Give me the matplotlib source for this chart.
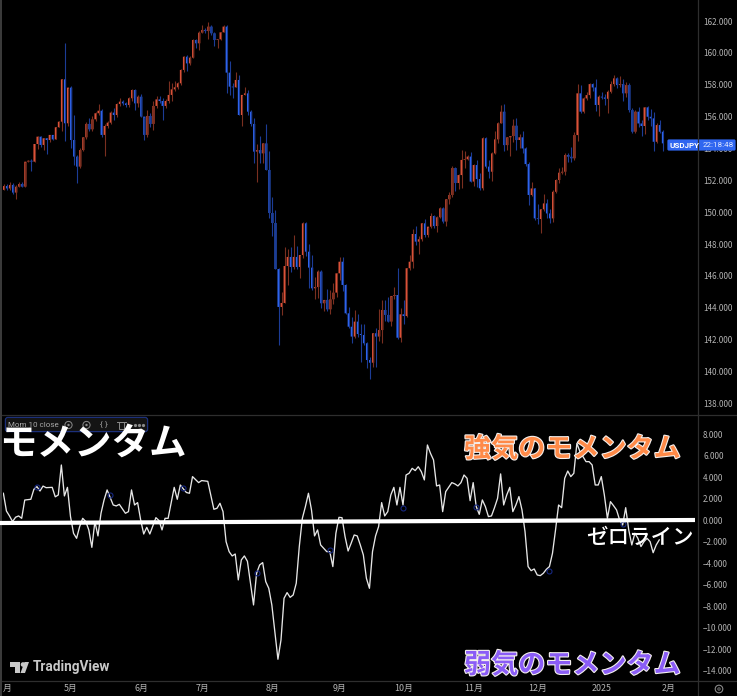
import numpy as np
import matplotlib
matplotlib.use('Agg')
import matplotlib.pyplot as plt
import matplotlib.patheffects as pe
from matplotlib.patches import FancyBboxPatch, Rectangle, Polygon, Circle

plt.rcParams['font.family'] = ['Noto Sans CJK JP', 'DejaVu Sans']

first_open = 151.40
closes = [
    151.64, 151.49, 151.71, 151.23, 151.60, 151.77, 151.60, 153.17, 153.23, 153.17,
    154.28, 154.74, 154.22, 154.64, 154.53, 154.85, 154.57, 155.33, 155.68, 158.34,
    155.58, 157.82, 154.53, 153.49, 152.86, 153.90, 154.70, 155.54, 155.20, 155.83,
    156.21, 156.37, 154.85, 155.41, 155.62, 156.25, 156.10, 156.79, 156.94, 156.83,
    156.73, 157.15, 157.67, 156.83, 157.25, 156.00, 154.85, 156.04, 155.54, 156.67,
    157.08, 156.98, 156.67, 156.98, 157.36, 157.71, 157.84, 158.09, 158.93, 159.76,
    159.34, 159.70, 160.81, 160.60, 161.27, 161.44, 161.37, 161.65, 161.23, 160.81,
    160.85, 161.29, 161.65, 158.76, 157.88, 157.84, 158.30, 156.10, 157.36, 157.46,
    156.31,
    155.54, 153.80, 153.90, 153.69, 154.32, 152.65, 149.95, 149.32, 146.43, 144.05,
    144.30, 146.62, 147.19, 146.56, 147.19, 146.56, 147.31, 149.30, 147.52, 146.52,
    145.22, 145.30, 146.27, 144.28, 144.49, 143.90, 144.53, 144.95, 146.16, 146.89,
    145.43, 143.65, 142.81, 142.19, 143.13, 142.35, 142.29, 141.77, 140.72, 140.55,
    142.40, 142.19, 142.60, 143.86, 143.55, 143.13, 144.74, 144.80, 142.12, 143.59,
    143.48, 146.48, 146.89, 148.63, 148.15, 148.30, 149.30, 148.57, 149.09, 149.76,
    149.13, 149.68, 150.24, 149.41, 150.81, 151.08, 152.77, 151.83, 152.33, 153.28,
    153.32, 153.49, 151.92, 152.96, 152.08, 151.50, 154.64, 152.86, 152.54, 153.69,
    154.57, 155.58,
    156.31, 154.21, 154.70, 154.78, 155.43, 154.53, 154.70, 154.00, 153.02, 151.08,
    151.49, 149.61, 149.57, 150.18, 150.55, 149.92, 149.61, 151.28, 152.02, 152.48,
    152.54, 153.59, 153.48, 153.38, 154.84, 157.46, 156.31, 157.14, 157.35, 158.04,
    157.83, 156.73, 157.25, 157.20, 157.12, 157.56, 158.04, 158.40, 157.98, 158.04,
    157.46, 157.98, 156.41, 155.05, 156.31, 155.57, 155.41, 156.58, 155.99, 155.89,
    154.42, 155.47, 155.05, 154.32,
]
# wick length above / below the candle body
wick_up = [
    .1, .1, .2, .1, .1, .15, .15, 0, .05, .1,
    0, .05, .05, 0, 0, 0, 0, 0, .05, 0,
    2.3, 0, .1, 1.6, .1, .1, 0, .1, .4, .2,
    .1, .4, .1, .1, .1, .1, .3, .05, .2, .1,
    .1, .1, .05, .05, .1, .2, 0, .4, .2, .3,
    .2, .2, .2, .1, .9, .4, .4, .1, .05, .05,
    .1, .1, .05, .05, .1, .3, .1, .3, .1, .1,
    0, .05, .1, .1, .7, .2, .5, .3, 0, .4,
    .2,
    .1, .4, .4, .9, 0, 1.2, 1.2, 1.0, .8, .05,
    .7, 1.2, .5, .6, 1.4, .7, 0, .1, .1, .5,
    .8, .6, .1, .1, 0, .7, .6, .6, .05, .3,
    .3, .05, .4, .6, .7, .5, .6, .7, .1, .2,
    0, .3, 1.3, .6, .6, 1.1, 0, .5, 1.7, .4,
    .9, 0, .4, .3, .5, .2, 0, .3, 0, .2,
    .05, .1, .1, .1, 0, .2, .1, .05, .05, .6,
    .5, .1, .3, .05, .3, .4, .05, .05, .4, .1,
    .5, .05,
    .4, .5, 0, 0, .4, .5, .2, .4, .1, .1,
    .4, .05, .9, 0, .6, .3, .3, .1, .05, .3,
    .3, .1, .1, .6, .2, .6, .5, .1, .2, .1,
    .1, .5, .1, .3, .2, .1, .2, .2, .1, .5,
    .3, .2, .1, .1, .1, .3, .2, .05, .1, .5,
    .4, .1, .3, .1,
]
wick_dn = [
    0, .1, .1, .1, .4, 0, .05, 0, .05, .6,
    .05, .3, .1, .3, .9, .1, .05, 0, 0, .6,
    1.1, .2, .5, .5, 1.0, .1, .05, .1, .1, .1,
    .1, .1, .1, 1.3, .1, .1, .3, .1, .1, .1,
    .1, .1, .2, .4, .2, .05, .3, .1, .2, .4,
    .1, .1, .9, .1, .1, .4, .1, .1, .1, .1,
    .5, .1, 0, .3, .4, .05, .1, .5, .1, .4,
    .5, .05, 0, 1.3, .5, .7, 0, 0, .7, 0,
    .2,
    .1, .7, 1.9, .6, .6, 0, .3, .8, 0, 2.4,
    .5, 0, 1.2, .3, .1, .1, .7, .2, .3, 1.3,
    .1, .7, .7, .3, .5, .1, .3, .3, .3, .4,
    .4, .05, .05, .4, .1, .2, 1.7, .1, .5, 1.0,
    .3, 1.9, .3, .8, .4, 0, .3, .2, .1, .3,
    .5, .05, .1, .4, .2, .8, .1, .1, .1, .1,
    .1, .4, .05, .1, .3, .3, .1, .5, .4, .8,
    .5, .05, .05, .3, .5, .1, .1, .1, .4, .6,
    .05, .2,
    0, .4, .3, 1.2, .4, .6, .5, .3, .1, .6,
    .05, .1, .3, .9, .1, .3, .3, .2, .1, .2,
    .1, .2, .3, .2, .1, .4, .1, .1, .1, .2,
    .2, .4, .7, .1, .4, .9, .1, .1, .2, .1,
    .5, .2, .1, .1, .05, .2, .6, .5, .2, .5,
    .6, .1, .1, .5,
]

mom_idx = [
    0, 1, 2, 3, 4, 5, 6, 7, 9, 10, 11, 12, 13, 14, 16, 17, 18, 19, 20, 21, 22, 23, 24,
    25, 26, 27, 28, 29, 30, 31, 32, 33, 34, 35, 36, 37, 38, 40, 41, 42, 43, 44, 45, 46,
    47, 48, 50, 51, 52, 53, 54, 56, 57, 58, 59, 60, 61, 62, 64, 65, 67, 69, 70, 71, 72,
    73, 74, 75, 76, 77, 78, 79, 80, 81, 82, 83, 84, 85, 86, 87, 88, 89, 90, 91, 92, 93,
    94, 95, 96, 97, 98, 99, 100, 101, 102, 103, 104, 105, 106, 107, 108, 109, 110, 111,
    112, 113, 114, 115, 116, 117, 118, 119, 120, 121, 122, 123, 124, 125, 126, 127, 128,
    129, 130, 131, 132, 133, 134, 135, 136, 137, 138, 139, 140, 141, 142, 143, 144, 145,
    147, 148, 149, 150, 151, 152, 153, 154, 155, 156, 157, 158, 159, 160, 161, 162, 163,
    164, 165, 166, 167, 168, 169, 170, 171, 172, 173, 174, 175, 176, 177, 178, 179, 180,
    181, 182, 183, 184, 185, 186, 187, 188, 189, 190, 191, 192, 193, 194, 195, 196, 197,
    198, 199, 200, 201, 202, 203, 204, 205, 206, 207, 208, 209, 210, 211, 212, 213, 214,
    215,
]
mom_vals = [
    2.53, .88, .42, -.1, .3, .42, .2, 1.9, 1.97, 2.9, 3.15, 2.74, 3.2, 3.05, 3.08, 2.2, 2.37, 5.16, 2.28, 3.08, .36, -1.2, -1.66,
    -.57, .2, -.1, -.88, -2.5, -.1, -1.44, .67, 1.9, 2.84, 2.15, 1.44, 1.35, 1.5, .67, .82, 2.84, 1.44, 1.66, .05, -1.26,
    -.64, -1.26, .26, 0, -.88, .2, .2, 3.08, 1.97, 3.3, 2.93, 2.6, 2.53, 4.08, 3.52, 3.71, 3.64, 1.04, 1.13, 1.6, .82,
    -1.97, -2.9, -3.3, -3.12, -5.53, -3.67, -3.3, -3.8, -5.85, -7.86, -4.91, -4.14, -3.92, -5.69, -6.31, -7.86, -10.34, -12.91, -11.12, -7.24, -6.71,
    -7.15, -6.93, -5.84, -2.43, .2, 1.29, 2.53, .98, -1.44, -.88, -2.28, -2.59, -2.9, -2.9, -4.29, -1.19, .29, .26,
    -1.5, -2.84, -2.12, -1.35, -1.44, -2.28, -3.21, -5.38, -6.31, -2.9, -1.44, -.57, 1.66, .42, .82, 2.37, 3.08,
    1.44, 3.08, 1.44, 4.23, 4.39, 4.85, 4.64, 5.0, 4.54, 3.77, 7.02, 6.25, 5.63, 3.21, 3.3, .82, 2.68,
    3.52, 3.4, 3.21, 3.52, 4.23, 3.92, 1.84, 3.52, 1.29, .57, 1.91, 1.29, .36, .42, 1.2, 2.06, 4.33,
    1.44, 2.37, 3.08, .82, 1.44, 2.22, .98, -1.04, -4.29, -4.67, -4.51, -5.07, -5.13, -4.91, -4.54, -4.29, -3.05,
    -.88, 1.44, 1.19, 3.92, 4.6, 4.08, 4.39, 7.18, 6.4, 5.94, 5.47, 5.47, 5.16, 3.3, 3.3, 4.08, 2.37,
    .2, 1.75, 1.38, .98, .05, -.42, 1.19, -.88, -2.28, -1.19, -1.66, -2.43, -1.97, -1.66, -1.97, -3.0, -2.28,
    -1.81,
]
dot_idx = [11, 35, 59, 83, 107, 131, 155, 179, 203]
dot_vals = [3.15, 2.34, 3.05, -4.85, -2.78, 1.13, 1.29, -4.73, -.36]

price_ticks = [138, 140, 142, 144, 146, 148, 150, 152, 154, 156, 158, 160, 162]
mom_ticks = [8, 6, 4, 2, 0, -2, -4, -6, -8, -10, -12, -14]
month_idx = [1, 22, 45, 65, 88, 110, 131, 154, 175, 196, 218]
month_labels = ['月', '5月', '6月', '7月', '8月', '9月', '10月', '11月', '12月', '2025', '2月']

W, H = 737, 696
BG = '#000000'
LINE = '#2e2e2e'
TICK = '#b4b4b4'
UP, DOWN = '#e0533a', '#2f66f0'
UP_W, DOWN_W = '#7a2f20', '#1c3c96'


def pane(top, bottom):
    return fig.add_axes([2.5 / W, 1 - bottom / H, (698 - 2.5) / W, (bottom - top) / H], facecolor=BG)


fig = plt.figure(figsize=(W / 100, H / 100), dpi=100, facecolor=BG)
ax = pane(0, 414)
ax2 = pane(415, 680)

closes = np.array(closes)
opens = np.r_[first_open, closes[:-1]]
x = np.arange(len(closes))
highs = np.maximum(opens, closes) + np.array(wick_up)
lows = np.minimum(opens, closes) - np.array(wick_dn)
up = closes >= opens

ax.vlines(x[up], lows[up], highs[up], color=UP_W, lw=0.8)
ax.vlines(x[~up], lows[~up], highs[~up], color=DOWN_W, lw=0.8)
for rect in ax.bar(x[up], (closes - opens)[up], bottom=opens[up], width=0.7, color=UP, lw=0):
    rect.set_snap(False)
for rect in ax.bar(x[~up], (closes - opens)[~up], bottom=opens[~up], width=0.7, color=DOWN, lw=0):
    rect.set_snap(False)
ax.set_ylim(137.33, 163.32)
ax.set_yticks(price_ticks, [f'{v:.3f}' for v in price_ticks])

mom_x = np.array(mom_idx) - 0.2
ax2.plot(mom_x, mom_vals, color='#e6e6e6', lw=0.95, zorder=3)
ax2.plot(np.array(dot_idx) - 0.2, dot_vals, 'o', ms=3.6, mfc='none', mec='#16277f', mew=0.8, zorder=4)
ax2.set_ylim(-14.84, 9.81)
ax2.set_yticks(mom_ticks, [f'{v:.3f}'.replace('-', '\u2212') for v in mom_ticks])
ax2.set_xticks(month_idx, month_labels)

for a in (ax, ax2):
    a.set_xlim(-0.49, 227.5)
    a.yaxis.tick_right()
    a.tick_params(axis='y', length=0, pad=3.6, labelsize=5.8, labelcolor=TICK)
    a.tick_params(axis='x', length=0, pad=3.2, labelsize=6.4, labelcolor=TICK)
    for s in a.spines.values():
        s.set_visible(False)
ax.set_xticks([])

# everything that sits on top of the panes, in pixels of the picture
top = fig.add_axes([0, 0, 1, 1], facecolor='none', zorder=10)
top.set_xlim(0, W)
top.set_ylim(H, 0)
top.axis('off')

top.add_patch(Rectangle((0, 0), 2.5, H, color='#3a3a3a', lw=0))
top.plot([698, 698], [0, H], color=LINE, lw=0.9)
top.plot([2.5, W], [414.5, 414.5], color=LINE, lw=0.9)
top.plot([2.5, W], [680.5, 680.5], color=LINE, lw=0.9)

# price tag
top.add_patch(FancyBboxPatch((668, 140), 67, 10, boxstyle='round,pad=0.6,rounding_size=1.5', fc='#2f66f0', ec='none'))
top.text(670, 145.2, 'USDJPY', color='white', fontsize=5.8, weight='bold', va='center', family='Roboto')
top.text(703, 145.2, '22:18:48', color='#dfe7ff', fontsize=5.8, va='center', family='Roboto')

# indicator legend
top.add_patch(FancyBboxPatch((6, 418), 141, 13, boxstyle='round,pad=0.6,rounding_size=2.5', fc='#141414', ec='#1b2f7a', lw=0.9))
top.text(8, 425, 'Mom 10 close', color='#a8a8a8', fontsize=5.8, va='center', family='Roboto')
for cx in (68.5, 86.5):
    top.add_patch(Circle((cx, 425), 3.6, fc='none', ec='#8a8a8a', lw=0.7))
    top.add_patch(Circle((cx, 425), 1.2, fc='#8a8a8a', ec='none'))
top.text(104, 424.6, '{ }', color='#a0a0a0', fontsize=6, ha='center', va='center', family='Roboto')
top.add_patch(Rectangle((119, 422), 5.5, 7, fc='none', ec='#8a8a8a', lw=0.7))
top.plot([117.5, 126], [421.5, 421.5], color='#8a8a8a', lw=0.7)
top.plot([135, 139, 143], [425, 425, 425], 'o', ms=1.3, color='#8a8a8a')

# logo
logo = '#c8c8c8'
top.add_patch(Polygon([(10, 662), (20, 662), (20, 673), (15, 673), (15, 667), (10, 667)], fc=logo, ec='none'))
top.add_patch(Circle((23, 664.5), 2.3, fc=logo, ec='none'))
top.add_patch(Polygon([(25, 673), (20.5, 673), (24.5, 662), (29, 662)], fc=logo, ec='none'))
top.text(33, 667.5, 'TradingView', color=logo, fontsize=9.8, weight='bold', va='center', family='Roboto')

# gear
top.add_patch(Circle((719, 689), 3.8, fc='none', ec='#8a8a8a', lw=0.8))
top.add_patch(Circle((719, 689), 1.2, fc='none', ec='#8a8a8a', lw=0.6))

# hand drawn zero line and captions
top.plot([0, 695], [523, 520], color='white', lw=3.0, solid_capstyle='butt')
top.text(-1, 443, 'モメンタム', color='white', fontsize=27, weight='bold', va='center')
top.text(586, 538, 'ゼロライン', color='white', fontsize=15.5, weight='medium', va='center')
outline = [pe.withStroke(linewidth=1.6, foreground='#f4f0ee')]
top.text(464, 449, '強気のモメンタム', color='#ff8a48', fontsize=19.5, weight='bold', va='center', path_effects=outline)
top.text(464, 665, '弱気のモメンタム', color='#8a5cf6', fontsize=19.5, weight='bold', va='center', path_effects=outline)

fig.savefig('out.png', dpi=100, facecolor=BG)
